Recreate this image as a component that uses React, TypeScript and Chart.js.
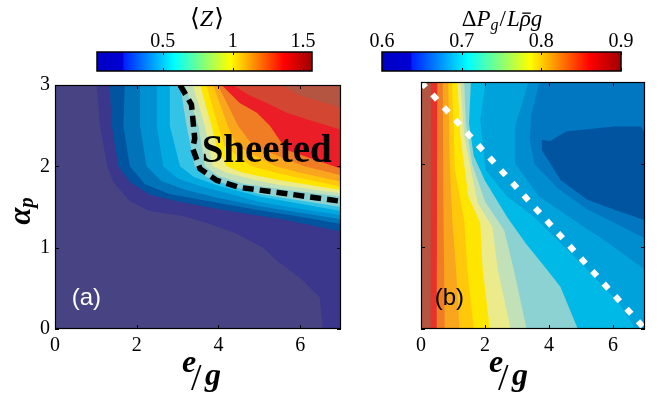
import React, { useEffect, useRef } from 'react';
import { Chart, registerables } from 'chart.js';

Chart.register(...registerables);

// ---------------- axes ----------------
const xRange = [0, 7];
const yRange = [0, 3];
const xTickValues = [0, 2, 4, 6];
const yTickValues = [0, 1, 2, 3];

// ---------------- panel (a): <Z> filled contours ----------------
const levelsA = [0.1, 0.2, 0.3, 0.4, 0.5, 0.6, 0.7, 0.8, 0.9, 1.0, 1.1, 1.2, 1.3, 1.4, 1.5, 1.6];
const colorsA = [
  '#484484', '#3a378c', '#0054a0', '#0073b9', '#0091d2', '#00aae1', '#32c3e6', '#8cd2d2', '#c3e1b9',
  '#ebeb8c', '#ffe600', '#ffc80a', '#faa51e', '#f07d23', '#eb1e28', '#d24632', '#b45541',
];
// contour line of each level (e/g, alpha_p), from the top edge to the right / bottom edge
const contoursA: number[][][] = [
  [[1.02, 3], [1.1, 2.5], [1.28, 2.0], [1.42, 1.81], [1.83, 1.57], [2.32, 1.45], [3.13, 1.39], [3.79, 1.29], [4.45, 1.17], [5.09, 1.0], [5.43, 0.84], [5.99, 0.63], [6.48, 0.39], [6.55, 0]],
  [[1.34, 3], [1.39, 2.5], [1.55, 2.0], [1.83, 1.81], [2.32, 1.65], [2.98, 1.57], [3.96, 1.48], [4.77, 1.41], [5.57, 1.35], [7, 1.2]],
  [[1.71, 3], [1.67, 2.5], [1.83, 2.0], [2.2, 1.78], [2.8, 1.66], [4, 1.55], [5, 1.46], [6, 1.38], [7, 1.29]],
  [[2.08, 3], [2.08, 2.5], [2.24, 2.0], [2.6, 1.82], [3.2, 1.71], [4, 1.61], [5, 1.51], [6, 1.43], [7, 1.35]],
  [[2.49, 3], [2.49, 2.5], [2.65, 2.0], [3, 1.85], [3.6, 1.75], [4.3, 1.66], [5, 1.56], [6, 1.48], [7, 1.4]],
  [[2.81, 3], [2.81, 2.5], [3.06, 2.0], [3.4, 1.87], [4, 1.76], [5, 1.63], [6, 1.54], [7, 1.45]],
  [[3.06, 3], [3.22, 2.5], [3.42, 2.0], [3.7, 1.87], [4.3, 1.76], [5, 1.66], [6, 1.58], [7, 1.5]],
  [[3.18, 3], [3.51, 2.5], [3.67, 2.0], [4, 1.88], [4.6, 1.79], [5.5, 1.72], [7, 1.63]],
  [[3.37, 3], [3.67, 2.5], [3.86, 2.0], [4.2, 1.92], [5, 1.82], [5.5, 1.77], [7, 1.67]],
  [[3.55, 3], [3.83, 2.5], [3.95, 2.25], [4.2, 2.0], [4.6, 1.92], [5.5, 1.83], [7, 1.71]],
  [[3.7, 3], [3.99, 2.5], [4.15, 2.25], [4.8, 2.0], [5.5, 1.91], [7, 1.75]],
  [[3.87, 3], [4.23, 2.5], [4.45, 2.25], [5.4, 2.0], [6, 1.92], [7, 1.81]],
  [[3.99, 3], [4.48, 2.5], [4.85, 2.25], [6.1, 2.0], [7, 1.89]],
  [[4.08, 3], [4.52, 2.78], [4.94, 2.66], [5.26, 2.5], [5.5, 2.32], [5.67, 2.2], [7, 1.97]],
  [[4.35, 3], [4.77, 2.87], [5.18, 2.78], [5.67, 2.66], [6.16, 2.58], [7, 2.45]],
  [[5.5, 3], [6.0, 2.87], [7, 2.72]],
];
const sheetedBoundary = [[3.06, 3], [3.34, 2.76], [3.42, 2.34], [3.37, 2.22], [3.55, 1.97], [3.95, 1.83], [4.52, 1.74], [5.58, 1.67], [7, 1.57]];
const sheetedLabel = { text: 'Sheeted', x: 3.59, y: 2.05 };

// ---------------- panel (b): pressure drop filled contours ----------------
const levelsB = [0.64, 0.66, 0.68, 0.7, 0.72, 0.74, 0.76, 0.78, 0.8, 0.82, 0.84, 0.86, 0.88];
const colorsB = [
  '#0054a0', '#0077c0', '#008dd0', '#00a2dc', '#00b9e6', '#8cd2d2', '#c3e1b9',
  '#ebeb8c', '#ffe600', '#ffc80a', '#faa51e', '#f07d23', '#e5322a', '#b45541',
];
// closed 0.64 contour (low pocket)
const pocketB = [[3.78, 2.3], [4.03, 2.28], [4.53, 2.4], [6.03, 2.46], [6.87, 2.46], [7, 2.38], [7, 1.32], [6.03, 1.45], [5.2, 1.57], [4.36, 1.81], [3.78, 2.17]];
// contour lines for levels 0.66 ... 0.88
const contoursB: number[][][] = [
  [[3.7, 3], [3.45, 2.6], [3.4, 2.3], [3.55, 2.0], [4.3, 1.7], [5.2, 1.45], [6.0, 1.3], [7, 1.1]],
  [[3.36, 3], [2.94, 2.46], [2.94, 2.01], [3.69, 1.61], [4.78, 1.32], [5.86, 1.04], [7, 0.72]],
  [[2.02, 3], [1.85, 2.54], [2.02, 1.93], [2.69, 1.61], [3.53, 1.36], [4.36, 1.04], [5.2, 0.72], [6.2, 0.31], [6.7, 0]],
  [[1.56, 3], [1.5, 2.5], [1.65, 2.1], [2.0, 1.8], [2.69, 1.36], [3.27, 1.04], [3.94, 0.72], [4.36, 0.51], [4.9, 0]],
  [[1.35, 3], [1.4, 2.5], [1.6, 2.0], [2.0, 1.55], [2.6, 1.2], [2.9, 0.72], [3.3, 0]],
  [[1.23, 3], [1.35, 2.34], [1.77, 1.53], [2.23, 1.24], [2.4, 0.72], [2.8, 0]],
  [[1.14, 3], [1.23, 2.34], [1.48, 1.61], [1.85, 1.29], [1.93, 0.72], [2.15, 0]],
  [[0.97, 3], [1.06, 1.93], [1.35, 1.32], [1.45, 0.72], [1.65, 0]],
  [[0.85, 3], [0.9, 2.0], [0.98, 1.3], [1.1, 0.7], [1.2, 0]],
  [[0.68, 3], [0.7, 1.5], [0.74, 0]],
  [[0.51, 3], [0.5, 1.5], [0.49, 0]],
  [[0.31, 3], [0.31, 1.5], [0.29, 0]],
];
const transitionLineB = [[0, 3], [7, 0]];

// ---------------- colorbars ----------------
const colorbarA = { min: 0.03, max: 1.565, ticks: [0.5, 1, 1.5] };
const colorbarB = { min: 0.6, max: 0.9, ticks: [0.6, 0.7, 0.8, 0.9] };
const jetStops: [number, string][] = [
  [0, '#0000c4'], [0.12, '#0000d4'], [0.125, '#0020ff'], [0.36, '#00ffff'],
  [0.62, '#ffff00'], [0.87, '#ff0000'], [1, '#a00000'],
];

const SERIF = '"Liberation Serif", "DejaVu Serif", serif';
const MATHSYM = '"Liberation Serif", "DejaVu Serif", "DejaVu Sans", serif';
const SANS = '"Liberation Sans", Arial, sans-serif';

const pts = (arr: number[][]) => arr.map(([x, y]) => ({ x, y }));

function regionUpperRight(line: number[][]) {
  const p = pts(line);
  const last = line[line.length - 1];
  if (last[1] === yRange[0]) p.push({ x: xRange[1], y: yRange[0] });
  p.push({ x: xRange[1], y: yRange[1] });
  return p;
}

function regionLeft(line: number[][]) {
  const p = pts(line);
  const last = line[line.length - 1];
  if (last[0] === xRange[1]) p.push({ x: xRange[1], y: yRange[0] });
  p.push({ x: xRange[0], y: yRange[0] });
  p.push({ x: xRange[0], y: yRange[1] });
  return p;
}

const fullArea = () => [
  { x: xRange[0], y: yRange[0] }, { x: xRange[1], y: yRange[0] },
  { x: xRange[1], y: yRange[1] }, { x: xRange[0], y: yRange[1] },
];

function shapeDs(data: any[], color: string, order: number) {
  return {
    data, showLine: true, fill: 'shape', backgroundColor: color, borderColor: color,
    borderWidth: 0, pointRadius: 0, pointHoverRadius: 0, order,
  };
}

type Run = { t: string; font: string; dy?: number; bar?: boolean; gap?: number };
function drawRuns(ctx: CanvasRenderingContext2D, runs: Run[], cx: number, baseline: number) {
  const widths = runs.map((r) => { ctx.font = r.font; return ctx.measureText(r.t).width + (r.gap || 0); });
  const total = widths.reduce((s, w) => s + w, 0);
  let x = cx - total / 2;
  ctx.textAlign = 'left';
  ctx.textBaseline = 'alphabetic';
  runs.forEach((r, i) => {
    ctx.font = r.font;
    ctx.fillText(r.t, x, baseline + (r.dy || 0));
    if (r.bar) ctx.fillRect(x + 2.5, baseline - 13.5, widths[i] - 2.5, 1.3);
    x += widths[i];
  });
}

function drawEG(ctx: CanvasRenderingContext2D, cx: number, base: number) {
  ctx.fillStyle = '#000';
  ctx.textAlign = 'left';
  ctx.textBaseline = 'alphabetic';
  ctx.font = `bold italic 32px ${SERIF}`;
  ctx.fillText('e', cx - 21, base);
  ctx.font = `38px ${SERIF}`;
  ctx.fillText('/', cx - 12, base + 18);
  ctx.font = `bold italic 32px ${SERIF}`;
  ctx.fillText('g', cx + 2, base + 13);
}

const framePlugin = {
  id: 'frameTicks',
  afterDatasetsDraw(chart: any) {
    const { ctx, chartArea: a } = chart;
    const xs = chart.scales.x;
    const ys = chart.scales.y;
    ctx.save();
    ctx.strokeStyle = '#000';
    ctx.lineWidth = 1;
    ctx.beginPath();
    xTickValues.forEach((v) => {
      const px = Math.round(xs.getPixelForValue(v)) + 0.5;
      ctx.moveTo(px, a.bottom); ctx.lineTo(px, a.bottom - 4);
      ctx.moveTo(px, a.top); ctx.lineTo(px, a.top + 4);
    });
    yTickValues.forEach((v) => {
      const py = Math.round(ys.getPixelForValue(v)) + 0.5;
      ctx.moveTo(a.left, py); ctx.lineTo(a.left + 4, py);
      ctx.moveTo(a.right, py); ctx.lineTo(a.right - 4, py);
    });
    ctx.stroke();
    ctx.lineWidth = 1.2;
    ctx.strokeRect(Math.round(a.left) + 0.5, Math.round(a.top) + 0.5, Math.round(a.width) - 1, Math.round(a.height) - 1);
    ctx.restore();
  },
};

function panelConfig(datasets: any[], padding: any, showY: boolean, texts: (chart: any) => void) {
  const tickFont = { family: SERIF, size: 20, lineHeight: 1.2 };
  return {
    type: 'scatter',
    data: { datasets },
    options: {
      animation: false,
      responsive: false,
      devicePixelRatio: 1,
      events: [],
      layout: { padding },
      plugins: { legend: { display: false }, tooltip: { enabled: false } },
      scales: {
        x: {
          type: 'linear', min: xRange[0], max: xRange[1],
          grid: { display: false, drawTicks: false }, border: { display: false },
          ticks: { font: tickFont, color: '#000', padding: 5, maxRotation: 0, autoSkip: false, callback: (v: any) => String(v) },
          afterBuildTicks: (s: any) => { s.ticks = xTickValues.map((value) => ({ value })); },
          afterFit: (s: any) => { s.height = 65; },
        },
        y: {
          type: 'linear', min: yRange[0], max: yRange[1], display: showY,
          grid: { display: false, drawTicks: false }, border: { display: false },
          ticks: { font: { ...tickFont, lineHeight: 1 }, color: '#000', padding: 5, autoSkip: false, callback: (v: any) => String(v) },
          afterBuildTicks: (s: any) => { s.ticks = yTickValues.map((value) => ({ value })); },
          afterFit: (s: any) => { s.width = 55; },
        },
      },
    },
    plugins: [framePlugin, { id: 'texts', afterDraw: texts }],
  };
}

function buildPanelA() {
  const ds: any[] = [shapeDs(fullArea(), colorsA[0], 100)];
  contoursA.forEach((line, i) => ds.push(shapeDs(regionUpperRight(line), colorsA[i + 1], 99 - i)));
  ds.push({
    data: pts(sheetedBoundary), showLine: true, fill: false, borderColor: '#000', borderWidth: 5.5,
    borderDash: [11, 6], borderCapStyle: 'butt', pointRadius: 0, pointHoverRadius: 0, order: 0, clip: 0,
  });
  return panelConfig(ds, { top: 12, right: 11, left: 0, bottom: 0 }, true, (chart: any) => {
    const { ctx } = chart;
    const xs = chart.scales.x;
    const ys = chart.scales.y;
    ctx.save();
    ctx.fillStyle = '#000';
    ctx.textAlign = 'left';
    ctx.textBaseline = 'alphabetic';
    ctx.font = `bold 39px ${SERIF}`;
    ctx.fillText(sheetedLabel.text, xs.getPixelForValue(sheetedLabel.x), ys.getPixelForValue(sheetedLabel.y));
    ctx.fillStyle = '#ffffff';
    ctx.font = `24px ${SANS}`;
    ctx.fillText('(a)', xs.getPixelForValue(0.41), ys.getPixelForValue(0.29));
    // y axis title alpha_p
    ctx.fillStyle = '#000';
    ctx.translate(0, 141);
    ctx.rotate(-Math.PI / 2);
    drawRuns(ctx, [
      { t: 'α', font: `bold italic 31px ${MATHSYM}` },
      { t: 'p', font: `bold italic 21px ${SERIF}`, dy: 3 },
    ], 0, 30);
    ctx.setTransform(1, 0, 0, 1, 0, 0);
    drawEG(ctx, 203, 302);
    ctx.restore();
  });
}

function buildPanelB() {
  const ds: any[] = [shapeDs(fullArea(), colorsB[1], 100), shapeDs(pts(pocketB), colorsB[0], 99)];
  contoursB.forEach((line, i) => ds.push(shapeDs(regionLeft(line), colorsB[i + 2], 98 - i)));
  ds.push({
    data: pts(transitionLineB), showLine: true, fill: false, borderColor: '#ffffff', borderWidth: 6,
    borderDash: [7, 10], borderCapStyle: 'butt', pointRadius: 0, pointHoverRadius: 0, order: 0, clip: 0,
  });
  return panelConfig(ds, { top: 12, right: 12, left: 16, bottom: 0 }, false, (chart: any) => {
    const { ctx } = chart;
    const xs = chart.scales.x;
    const ys = chart.scales.y;
    ctx.save();
    ctx.fillStyle = '#000';
    ctx.textAlign = 'left';
    ctx.textBaseline = 'alphabetic';
    ctx.font = `24px ${SANS}`;
    ctx.fillText('(b)', xs.getPixelForValue(0.43), ys.getPixelForValue(0.29));
    drawEG(ctx, 160, 302);
    ctx.restore();
  });
}

function buildColorbar(cb: any, padding: any, title: (ctx: CanvasRenderingContext2D) => void) {
  const gradient = (c: any) => {
    const chart = c.chart;
    const xs = chart.scales && chart.scales.x;
    if (!chart.chartArea || !xs) return '#0000ff';
    const g = chart.ctx.createLinearGradient(xs.getPixelForValue(cb.min), 0, xs.getPixelForValue(cb.max), 0);
    jetStops.forEach(([t, col]) => g.addColorStop(t, col));
    return g;
  };
  return {
    type: 'bar',
    data: {
      labels: [''],
      datasets: [{ data: [[cb.min, cb.max]], backgroundColor: gradient, borderWidth: 0, barPercentage: 1, categoryPercentage: 1 }],
    },
    options: {
      indexAxis: 'y',
      animation: false,
      responsive: false,
      devicePixelRatio: 1,
      events: [],
      layout: { padding },
      plugins: { legend: { display: false }, tooltip: { enabled: false } },
      scales: {
        x: {
          type: 'linear', position: 'top', min: cb.min, max: cb.max,
          grid: { display: false, drawTicks: false }, border: { display: false },
          ticks: { font: { family: SERIF, size: 20, lineHeight: 1 }, color: '#000', padding: 0, maxRotation: 0, autoSkip: false, callback: (v: any) => String(v) },
          afterBuildTicks: (s: any) => { s.ticks = cb.ticks.map((value: number) => ({ value })); },
          afterFit: (s: any) => { s.height = 52; },
        },
        y: { display: false },
      },
    },
    plugins: [{
      id: 'cbDecor',
      afterDatasetsDraw(chart: any) {
        const { ctx, chartArea: a } = chart;
        const xs = chart.scales.x;
        ctx.save();
        ctx.strokeStyle = '#000';
        ctx.lineWidth = 1;
        ctx.beginPath();
        cb.ticks.forEach((v: number) => {
          const px = Math.round(xs.getPixelForValue(v)) + 0.5;
          ctx.moveTo(px, a.top); ctx.lineTo(px, a.top + 3);
          ctx.moveTo(px, a.bottom); ctx.lineTo(px, a.bottom - 3);
        });
        ctx.stroke();
        ctx.lineWidth = 1.5;
        ctx.strokeRect(a.left, a.top, a.width, a.height);
        ctx.fillStyle = '#000';
        title(ctx);
        ctx.restore();
      },
    }],
  };
}

export default function App() {
  const cbARef = useRef<HTMLCanvasElement>(null);
  const cbBRef = useRef<HTMLCanvasElement>(null);
  const paRef = useRef<HTMLCanvasElement>(null);
  const pbRef = useRef<HTMLCanvasElement>(null);

  useEffect(() => {
    const charts = [
      new Chart(paRef.current as any, buildPanelA() as any),
      new Chart(pbRef.current as any, buildPanelB() as any),
      new Chart(cbARef.current as any, buildColorbar(colorbarA, { left: 37, right: 38, top: 0, bottom: 5 }, (ctx) => {
        drawRuns(ctx, [
          { t: '⟨', font: `25px ${MATHSYM}` },
          { t: 'Z', font: `italic 24px ${SERIF}`, gap: 1 },
          { t: '⟩', font: `25px ${MATHSYM}` },
        ], 147, 26);
      }) as any),
      new Chart(cbBRef.current as any, buildColorbar(colorbarB, { left: 27, right: 34, top: 0, bottom: 5 }, (ctx) => {
        drawRuns(ctx, [
          { t: 'Δ', font: `23px ${SERIF}` },
          { t: 'P', font: `italic 23px ${SERIF}` },
          { t: 'g', font: `italic 16px ${SERIF}`, dy: 4, gap: 1 },
          { t: '/', font: `23px ${SERIF}`, gap: 1 },
          { t: 'L', font: `italic 23px ${SERIF}` },
          { t: 'ρ', font: `italic 23px ${MATHSYM}`, bar: true },
          { t: 'g', font: `italic 23px ${SERIF}` },
        ], 147, 26);
      }) as any),
    ];
    return () => charts.forEach((c) => c.destroy());
  }, []);

  const abs = (left: number, top: number): React.CSSProperties => ({ position: 'absolute', left, top, display: 'block' });
  return (
    <div style={{ position: 'fixed', left: 0, top: 0, width: 657, height: 394, background: '#fff', overflow: 'hidden' }}>
      <canvas ref={paRef} width={352} height={324} style={abs(0, 70)} />
      <canvas ref={pbRef} width={307} height={324} style={abs(350, 70)} />
      <canvas ref={cbARef} width={290} height={76} style={abs(60, 0)} />
      <canvas ref={cbBRef} width={300} height={76} style={abs(355, 0)} />
    </div>
  );
}
